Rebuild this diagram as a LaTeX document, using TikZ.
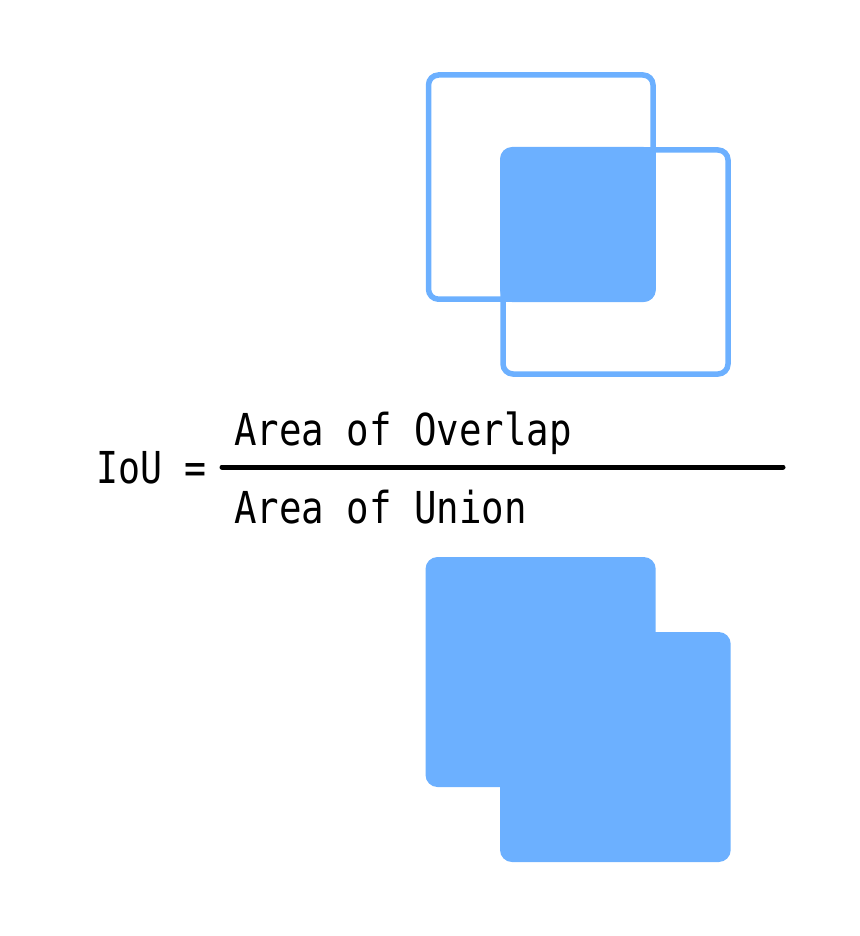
\documentclass[tikz,border=0pt]{standalone}
\usepackage{fontspec}
\setmonofont{DejaVu Sans Mono}
\definecolor{boxblue}{RGB}{108,176,255}
\tikzset{
  outline/.style={draw=boxblue, line width=5.5pt, rounded corners=10pt},
  solid box/.style={fill=boxblue, rounded corners=12pt},
  label/.style={inner sep=0pt, anchor=base west, font=\ttfamily\fontsize{44}{50}\selectfont},
}
\newcommand{\narrow}[2][0.85]{\scalebox{#1}[1]{#2}}
\begin{document}
\begin{tikzpicture}[x=1pt,y=-1pt]
\useasboundingbox (0,0) rectangle (859,936);
% top: overlap
\fill[solid box] (500,147) rectangle (655.7,302);
\draw[outline] (428.5,75) rectangle (653,299.2);
\draw[outline] (503,150) rectangle (728,374);
% formula
\node[label] (iou) at (96,483) {\narrow[0.83]{IoU =}};
\node[label] (num) at (234,445) {\narrow{Area of Overlap}};
\node[label] (den) at (234,523) {\narrow{Area of Union}};
\coordinate (barL) at (222,467);
\coordinate (barR) at (783,467);
\draw[line width=5pt, line cap=round] (barL) -- (barR);
% bottom: union
\fill[solid box] (425.5,557) rectangle (655.7,787);
\fill[solid box] (500,632) rectangle (730.7,862);
\end{tikzpicture}
\end{document}
